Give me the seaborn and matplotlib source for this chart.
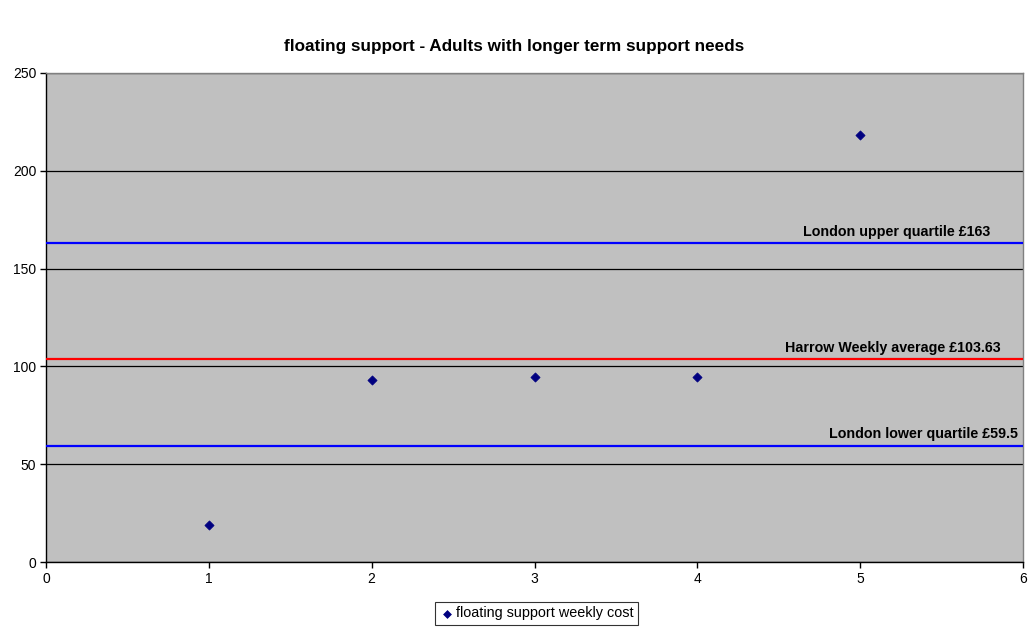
import matplotlib
matplotlib.use("Agg")
import matplotlib.pyplot as plt
import seaborn as sns
import pandas as pd

# Data
providers = [1, 2, 3, 4, 5]
weekly_cost = [18.8, 92.9, 94.8, 94.8, 218.5]
ref_labels = ["London upper quartile £163", "Harrow Weekly average £103.63", "London lower quartile £59.5"]
ref_values = [163, 103.63, 59.5]
ref_colors = ["#0000FF", "#FF0000", "#0000FF"]
x_ticks = [0, 1, 2, 3, 4, 5, 6]
y_ticks = [0, 50, 100, 150, 200, 250]

sns.set_theme(style="white")
plt.rcParams['font.family'] = ['Liberation Sans', 'DejaVu Sans']
plt.rcParams['text.color'] = 'black'
plt.rcParams['xtick.color'] = 'black'
plt.rcParams['ytick.color'] = 'black'
plt.rcParams['axes.labelcolor'] = 'black'

fig = plt.figure(figsize=(10.29, 6.30), dpi=100)
ax = fig.add_axes([46/1029, (630-562)/630, (1023-46)/1029, (562-73)/630])
ax.set_facecolor("#C0C0C0")

df = pd.DataFrame({"x": providers, "y": weekly_cost})
sns.scatterplot(data=df, x="x", y="y", marker="D", color="#000080", s=22,
                edgecolor="#000080", linewidth=0.5, ax=ax,
                label="floating support weekly cost", zorder=5)

ax.set_xlim(0, 6)
ax.set_ylim(0, 250)
ax.set_xticks(x_ticks)
ax.set_yticks(y_ticks)
ax.yaxis.grid(True, color="black", linewidth=0.9)
ax.xaxis.grid(False)
ax.set_axisbelow(True)

text_x = [5.80, 5.865, 5.97]
for lab, v, c, tx in zip(ref_labels, ref_values, ref_colors, text_x):
    ax.axhline(v, color=c, linewidth=1.6, zorder=3)
    ax.text(tx, v + 2.2, lab, ha="right", va="bottom", fontsize=10.3,
            fontweight="bold", color="black", zorder=6)

for s in ["left", "bottom"]:
    ax.spines[s].set_color("black")
    ax.spines[s].set_linewidth(1.0)
for s in ["top", "right"]:
    ax.spines[s].set_color("#808080")
    ax.spines[s].set_linewidth(1.0)

ax.tick_params(axis="both", which="both", direction="out", length=4, width=1,
               color="black", labelcolor="black", labelsize=10,
               bottom=True, left=True, pad=3)
ax.set_xlabel("")
ax.set_ylabel("")

fig.suptitle("floating support - Adults with longer term support needs",
             x=0.5, y=1 - 46/630, va="center", fontsize=12.3, fontweight="bold",
             color="black")

leg = ax.legend(loc="center", bbox_to_anchor=(536.5/1029, (630-613.5)/630),
                bbox_transform=fig.transFigure, frameon=True, fancybox=False,
                fontsize=10.4, handletextpad=0.1, borderpad=0.3,
                handlelength=1.0, borderaxespad=0, markerscale=0.85)
for t in leg.get_texts():
    t.set_color("black")
leg.get_frame().set_edgecolor("black")
leg.get_frame().set_linewidth(0.8)
leg.get_frame().set_facecolor("white")

fig.savefig("out.png", dpi=100, facecolor="white")
